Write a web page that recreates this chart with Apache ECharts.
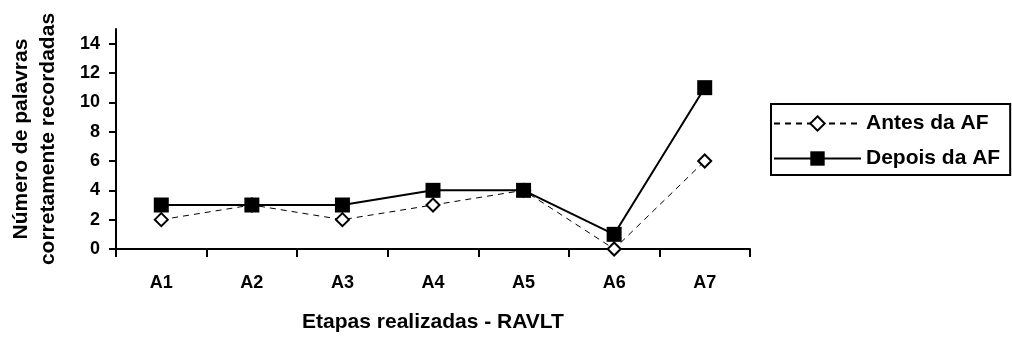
<!DOCTYPE html>
<html>
<head>
<meta charset="utf-8">
<script src="https://cdn.jsdelivr.net/npm/echarts@6/dist/echarts.min.js"></script>
<style>html,body{margin:0;padding:0;background:#fff}#c{width:1012px;height:338px}</style>
</head>
<body>
<div id="c"></div>
<script>
const categories = ['A1','A2','A3','A4','A5','A6','A7'];
const antes = [2, 3, 2, 3, 4, 0, 6];
const depois = [3, 3, 3, 4, 4, 1, 11];
const yTicks = [0, 2, 4, 6, 8, 10, 12, 14];
const seriesNames = ['Antes da AF', 'Depois da AF'];
const xTitle = 'Etapas realizadas - RAVLT';
const yTitle = 'Número de palavras\ncorretamente recordadas';

const font = 'Liberation Sans, Arial, sans-serif';
const chart = echarts.init(document.getElementById('c'), null, {renderer: 'canvas'});
chart.setOption({
  animation: false,
  backgroundColor: '#fff',
  grid: {left: 113, right: 262, top: 29, bottom: 88, containLabel: false},
  legend: {
    orient: 'vertical',
    left: 771, top: 104,
    padding: [9, 10, 6, 2],
    itemWidth: 87, itemHeight: 18, itemGap: 14,
    borderColor: '#000', borderWidth: 2,
    textStyle: {fontFamily: font, fontWeight: 'bold', fontSize: 21, color: '#000'},
    data: seriesNames
  },
  xAxis: {
    type: 'category',
    data: categories,
    boundaryGap: true,
    name: xTitle,
    nameLocation: 'middle',
    nameGap: 63,
    nameTextStyle: {fontFamily: font, fontWeight: 'bold', fontSize: 21, color: '#000'},
    axisLine: {lineStyle: {color: '#000', width: 2}},
    axisTick: {show: true, length: 8, lineStyle: {color: '#000', width: 2}, alignWithLabel: false},
    axisLabel: {margin: 25, fontFamily: font, fontWeight: 'bold', fontSize: 18, color: '#000'},
    splitLine: {show: false}
  },
  yAxis: {
    type: 'value',
    min: 0, max: 15,
    name: yTitle,
    nameLocation: 'middle',
    nameRotate: 90,
    nameGap: 54,
    nameTextStyle: {fontFamily: font, fontWeight: 'bold', fontSize: 21, color: '#000', lineHeight: 27},
    axisLine: {show: true, lineStyle: {color: '#000', width: 2}},
    axisTick: {show: true, length: 7, lineStyle: {color: '#000', width: 2}, customValues: yTicks},
    axisLabel: {margin: 16, fontFamily: font, fontWeight: 'bold', fontSize: 18, color: '#000', customValues: yTicks},
    splitLine: {show: false}
  },
  series: [
    {
      name: seriesNames[0],
      type: 'line',
      data: antes,
      symbol: 'diamond',
      symbolSize: 13,
      showAllSymbol: true,
      lineStyle: {color: '#000', width: 1, type: [6, 5]},
      itemStyle: {color: '#fff', borderColor: '#000', borderWidth: 2}
    },
    {
      name: seriesNames[1],
      type: 'line',
      data: depois,
      symbol: 'rect',
      symbolSize: 15,
      showAllSymbol: true,
      lineStyle: {color: '#000', width: 2},
      itemStyle: {color: '#000', borderColor: '#000', borderWidth: 0}
    }
  ]
});
</script>
</body>
</html>
